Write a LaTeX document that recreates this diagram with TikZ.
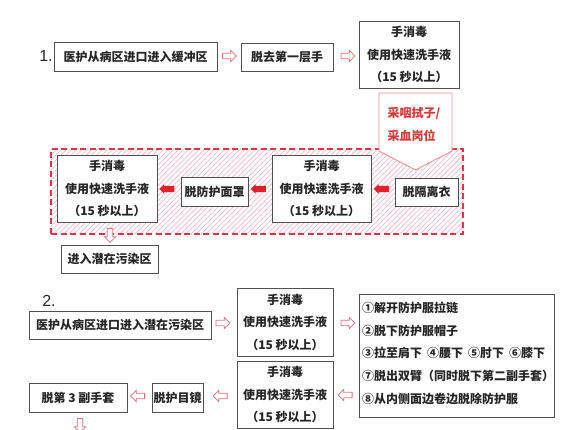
\documentclass[tikz,border=0pt]{standalone}
\usepackage{fontspec}
\setmainfont{Noto Sans CJK SC}
\newfontfamily\latinsans{Liberation Sans}
\usetikzlibrary{shapes.arrows,patterns.meta}
\definecolor{boxgray}{HTML}{505050}
\definecolor{arrowpink}{HTML}{D9707E}
\definecolor{arrowred}{HTML}{E0202A}
\definecolor{dashred}{HTML}{D8364A}
\definecolor{hatchpink}{HTML}{EDB0B8}
\definecolor{calltext}{HTML}{D33A3A}
\definecolor{callline}{HTML}{E39098}
\tikzset{
  box/.style={draw=boxgray, line width=0.9pt, fill=white, align=center, inner sep=0pt,
    font=\fontsize{12}{22.5}\selectfont\bfseries, text=black!85},
  hol/.style={single arrow, draw=arrowpink, fill=white, line width=0.8pt,
    minimum height=14pt, inner sep=2.4pt, single arrow head extend=2.8pt},
  solidarrow/.style={single arrow, fill=arrowred, draw=none,
    minimum height=15pt, inner sep=3pt, single arrow head extend=1.6pt, shape border rotate=180},
  zone/.style={draw=dashred, line width=1.4pt, dash pattern=on 6pt off 3.5pt,
    pattern={Lines[angle=45,distance=3.6pt,line width=0.55pt]}, pattern color=hatchpink,
    inner sep=0pt},
  callout/.style={draw=callline, line width=0.9pt, fill=white},
  calltxt/.style={text=calltext, align=left, font=\fontsize{12}{23}\selectfont\bfseries},
  steps/.style={align=left, anchor=north west, inner sep=0pt,
    font=\fontsize{12}{22.6}\selectfont\bfseries, text=black!85},
  num/.style={font=\fontsize{16}{16}\selectfont\latinsans, text=black!85, inner sep=0pt}
}
\begin{document}
\begin{tikzpicture}[x=1pt,y=-1pt]
\useasboundingbox[fill=white] (0,0) rectangle (573,430);

% ---- section 1 ----
\node[num] (n1) at (46,56) {1.};
\node[box, minimum width=163pt, minimum height=29pt] (a1) at (135.5,56.5) {医护从病区进口进入缓冲区};
\node[box, minimum width=92pt, minimum height=28pt] (a2) at (287,57) {脱去第一层手};
\node[box, minimum width=100pt, minimum height=67pt] (a3) at (409,54.5) {手消毒\\使用快速洗手液\\（15 秒以上）};
\node[hol] (h1) at (228,56) {};
\node[hol] (h2) at (346.5,56) {};

\node[zone, minimum width=412pt, minimum height=85pt] (zone) at (257,191.5) {};
\draw[callout] (379,93) -- (452,93) -- (452,151) -- (415.5,170) -- (379,151) -- cycle;
\node[calltxt] (call) at (414,124) {采咽拭子/\\采血岗位};

\node[box, minimum width=100pt, minimum height=67pt] (b1) at (107,188.5) {手消毒\\使用快速洗手液\\（15 秒以上）};
\node[box, minimum width=67pt, minimum height=29pt] (b2) at (214.5,191.5) {脱防护面罩};
\node[box, minimum width=99pt, minimum height=67pt] (b3) at (321.5,188.5) {手消毒\\使用快速洗手液\\（15 秒以上）};
\node[box, minimum width=63pt, minimum height=28pt] (b4) at (426.5,192) {脱隔离衣};
\node[solidarrow] (s1) at (168.5,189) {};
\node[solidarrow] (s2) at (260,189) {};
\node[solidarrow] (s3) at (383,189) {};

\node[hol, shape border rotate=270] (h3) at (110,234) {};
\node[box, minimum width=97pt, minimum height=28pt] (c1) at (109.5,259) {进入潜在污染区};

% ---- section 2 ----
\node[num] (n2) at (49,301) {2.};
\node[box, minimum width=182pt, minimum height=28pt] (d1) at (120,325) {医护从病区进口进入潜在污染区};
\node[box, minimum width=96pt, minimum height=68pt] (d2) at (285,322) {手消毒\\使用快速洗手液\\（15 秒以上）};
\node[box, minimum width=96pt, minimum height=67pt] (d3) at (285,394.5) {手消毒\\使用快速洗手液\\（15 秒以上）};
\node[box, minimum width=195pt, minimum height=123pt] (d4) at (456.5,355.5) {};
\node[steps] (st) at (362,302) {①解开防护服拉链\\②脱下防护服帽子\\③拉至肩下\hspace{5pt}④腰下\hspace{5pt}⑤肘下\hspace{5pt}⑥膝下\\⑦脱出双臂（同时脱下第二副手套）\\⑧从内侧面边卷边脱除防护服};
\node[box, minimum width=51pt, minimum height=29pt] (e1) at (177.5,397.5) {脱护目镜};
\node[box, minimum width=98pt, minimum height=29pt] (e2) at (78,397.5) {脱第 3 副手套};

\node[hol] (h4) at (221.5,323) {};
\node[hol] (h5) at (346.5,323) {};
\node[hol, shape border rotate=180] (h6) at (346.5,395) {};
\node[hol, shape border rotate=180] (h7) at (221.5,396) {};
\node[hol, shape border rotate=180] (h8) at (139,396) {};
\node[hol, shape border rotate=270] (h9) at (80,424) {};
\end{tikzpicture}
\end{document}
